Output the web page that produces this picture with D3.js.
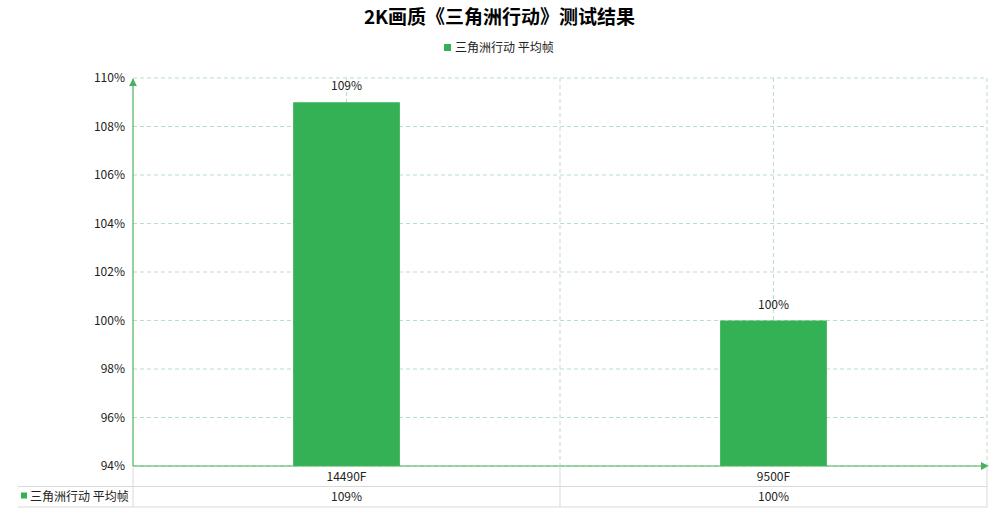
<!DOCTYPE html>
<html>
<head>
<meta charset="utf-8">
<script src="https://cdn.jsdelivr.net/npm/d3@7"></script>
<style>
	body { margin: 0; background: #fff; }
	text { font-family: "Noto Sans CJK SC", "Noto Sans", sans-serif; }
</style>
</head>
<body>
<div id="chart"></div>
<script>
// chart data
const categories = ["14490F", "9500F"];
const seriesName = "三角洲行动 平均帧";
const seriesValues = [109, 100];
const yTicks = [94, 96, 98, 100, 102, 104, 106, 108, 110];
const chartTitle = "2K画质《三角洲行动》测试结果";

const width = 999, height = 513;
const margin = {top: 78, right: 12, bottom: 47, left: 133};
const green = "#35b155";
const axisGreen = "#4caf5f";
const gridColor = "#b9e0c4";
const tableColor = "#d9d9d9";

const svg = d3.select("#chart").append("svg")
	.attr("width", width)
	.attr("height", height);

const plotW = width - margin.left - margin.right;
const plotH = height - margin.top - margin.bottom;

const x = d3.scaleBand().domain(categories).range([margin.left, margin.left + plotW]);
const y = d3.scaleLinear().domain([94, 110]).range([margin.top + plotH, margin.top]);

//Title
svg.append("text")
	.attr("x", width / 2)
	.attr("y", 24)
	.attr("text-anchor", "middle")
	.attr("font-size", "19px")
	.attr("font-weight", "bold")
	.attr("fill", "#000")
	.text(chartTitle);

//Legend
svg.append("rect")
	.attr("x", 444).attr("y", 44)
	.attr("width", 7).attr("height", 7)
	.attr("fill", green);
svg.append("text")
	.attr("x", 455).attr("y", 52)
	.attr("font-size", "12px")
	.attr("fill", "#222")
	.text(seriesName);

//Horizontal grid
svg.append("g")
	.selectAll("line")
	.data(yTicks)
	.enter().append("line")
	.attr("x1", margin.left).attr("x2", margin.left + plotW)
	.attr("y1", d => y(d)).attr("y2", d => y(d))
	.attr("stroke", gridColor)
	.attr("stroke-dasharray", "4,3");

//Vertical grid (band centers and band edges)
const vGrid = [];
categories.forEach(c => {
	vGrid.push(x(c) + x.bandwidth() / 2);
	vGrid.push(x(c) + x.bandwidth());
});
svg.append("g")
	.selectAll("line")
	.data(vGrid)
	.enter().append("line")
	.attr("x1", d => d).attr("x2", d => d)
	.attr("y1", margin.top).attr("y2", margin.top + plotH)
	.attr("stroke", gridColor)
	.attr("stroke-dasharray", "4,3");

//Bars
const barW = x.bandwidth() * 0.25;
svg.append("g")
	.selectAll("rect")
	.data(seriesValues)
	.enter().append("rect")
	.attr("x", (d, i) => x(categories[i]) + (x.bandwidth() - barW) / 2)
	.attr("y", d => y(d))
	.attr("width", barW)
	.attr("height", d => y(94) - y(d))
	.attr("fill", green);

//Bar labels
svg.append("g")
	.selectAll("text")
	.data(seriesValues)
	.enter().append("text")
	.attr("x", (d, i) => x(categories[i]) + x.bandwidth() / 2)
	.attr("y", d => y(d) - 12)
	.attr("text-anchor", "middle")
	.attr("font-size", "12px")
	.attr("fill", "#222")
	.text(d => d + "%");

//Y axis labels
svg.append("g")
	.selectAll("text")
	.data(yTicks)
	.enter().append("text")
	.attr("x", margin.left - 8)
	.attr("y", d => y(d) + 4)
	.attr("text-anchor", "end")
	.attr("font-size", "12px")
	.attr("fill", "#222")
	.text(d => d + "%");

//Axes with arrows
const defs = svg.append("defs");
defs.append("marker")
	.attr("id", "arrow")
	.attr("viewBox", "0 0 10 10")
	.attr("refX", 9).attr("refY", 5)
	.attr("markerWidth", 8).attr("markerHeight", 8)
	.attr("markerUnits", "userSpaceOnUse")
	.attr("orient", "auto")
	.append("path")
	.attr("d", "M0,0 L10,5 L0,10 z")
	.attr("fill", axisGreen);

svg.append("line")
	.attr("x1", margin.left).attr("x2", margin.left)
	.attr("y1", y(94)).attr("y2", y(110) + 1)
	.attr("stroke", axisGreen).attr("stroke-width", 1.2)
	.attr("marker-end", "url(#arrow)");
svg.append("line")
	.attr("x1", margin.left).attr("x2", margin.left + plotW + 1)
	.attr("y1", y(94)).attr("y2", y(94))
	.attr("stroke", axisGreen).attr("stroke-width", 1.2)
	.attr("marker-end", "url(#arrow)");

//Data table under the axis
const tTop = y(94), rowH = 20.5;
const tLeft = 18, tRight = margin.left + plotW;
const table = svg.append("g").attr("stroke", tableColor).attr("stroke-width", 1);
table.append("line").attr("x1", tLeft).attr("x2", tRight).attr("y1", tTop + rowH).attr("y2", tTop + rowH);
table.append("line").attr("x1", tLeft).attr("x2", tRight).attr("y1", tTop + 2 * rowH).attr("y2", tTop + 2 * rowH);
categories.forEach(c => {
	table.append("line")
		.attr("x1", x(c) + x.bandwidth()).attr("x2", x(c) + x.bandwidth())
		.attr("y1", tTop).attr("y2", tTop + 2 * rowH);
});
table.append("line")
	.attr("x1", margin.left).attr("x2", margin.left)
	.attr("y1", tTop).attr("y2", tTop + 2 * rowH);

svg.append("g")
	.selectAll("text")
	.data(categories)
	.enter().append("text")
	.attr("x", d => x(d) + x.bandwidth() / 2)
	.attr("y", tTop + 14.5)
	.attr("text-anchor", "middle")
	.attr("font-size", "12px")
	.attr("fill", "#222")
	.text(d => d);

svg.append("g")
	.selectAll("text")
	.data(seriesValues)
	.enter().append("text")
	.attr("x", (d, i) => x(categories[i]) + x.bandwidth() / 2)
	.attr("y", tTop + rowH + 14)
	.attr("text-anchor", "middle")
	.attr("font-size", "12px")
	.attr("fill", "#222")
	.text(d => d + "%");

svg.append("rect")
	.attr("x", 21).attr("y", tTop + rowH + 6)
	.attr("width", 6).attr("height", 6)
	.attr("fill", green);
svg.append("text")
	.attr("x", 30)
	.attr("y", tTop + rowH + 14)
	.attr("font-size", "12px")
	.attr("fill", "#222")
	.text(seriesName);
</script>
</body>
</html>
